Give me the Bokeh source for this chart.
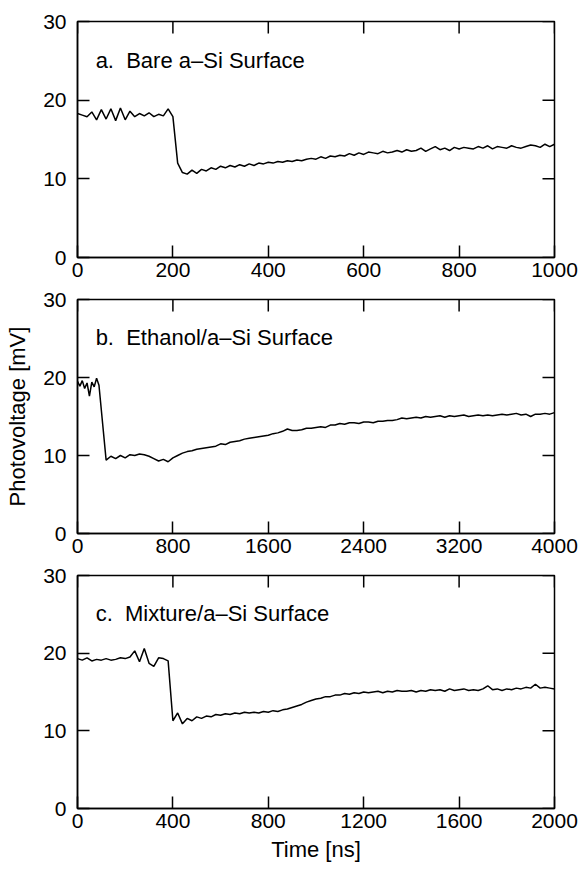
from math import pi
from bokeh.plotting import figure
from bokeh.models import Range1d, LinearAxis, FixedTicker, Label
from bokeh.layouts import column
from bokeh.embed import file_html
from bokeh.resources import INLINE

# ---------------- data ----------------
t_a = [0, 10, 20, 30, 40, 50, 60, 70, 80, 90, 100, 110, 120, 130, 140, 150, 160, 170, 180, 190,
       200, 210, 220, 230, 240, 250, 260, 270, 280, 290, 300, 310, 320, 330, 340, 350, 360, 370, 380, 390,
       400, 410, 420, 430, 440, 450, 460, 470, 480, 490, 500, 510, 520, 530, 540, 550, 560, 570, 580, 590,
       600, 610, 620, 630, 640, 650, 660, 670, 680, 690, 700, 710, 720, 730, 740, 750, 760, 770, 780, 790,
       800, 810, 820, 830, 840, 850, 860, 870, 880, 890, 900, 910, 920, 930, 940, 950, 960, 970, 980, 990, 1000]
v_a = [18.3, 18.1, 17.9, 18.5, 17.5, 18.8, 17.6, 18.9, 17.4, 19.0, 17.5, 18.6, 17.9, 18.3, 18.0, 18.4, 17.9, 18.2, 18.0, 18.9,
       17.9, 12.0, 10.8, 10.6, 11.1, 10.7, 11.2, 11.0, 11.4, 11.2, 11.6, 11.4, 11.7, 11.5, 11.8, 11.6, 11.9, 11.7, 12.0, 11.9,
       12.1, 12.0, 12.2, 12.1, 12.3, 12.2, 12.4, 12.3, 12.5, 12.6, 12.5, 12.8, 12.6, 12.9, 12.8, 13.0, 12.9, 13.2, 13.0, 13.3,
       13.1, 13.4, 13.3, 13.2, 13.5, 13.3, 13.4, 13.6, 13.4, 13.7, 13.5, 13.6, 13.9, 13.5, 13.8, 14.1, 13.7, 13.9, 13.6, 14.0,
       13.8, 14.0, 13.9, 13.8, 14.1, 13.9, 14.2, 13.8, 14.1, 14.0, 13.9, 14.2, 14.0, 13.9, 14.1, 14.3, 14.2, 14.0, 14.4, 14.1, 14.4]

t_b = [0, 20, 40, 60, 80, 100, 120, 140, 160, 180, 240, 280, 320, 360, 400, 440, 480, 520, 560, 600,
       640, 680, 720, 760, 800, 840, 880, 920, 960, 1000, 1040, 1080, 1120, 1160, 1200, 1240, 1280, 1320, 1360, 1400,
       1440, 1480, 1520, 1560, 1600, 1640, 1680, 1720, 1760, 1800, 1840, 1880, 1920, 1960, 2000, 2040, 2080, 2120, 2160, 2200,
       2240, 2280, 2320, 2360, 2400, 2440, 2480, 2520, 2560, 2600, 2640, 2680, 2720, 2760, 2800, 2840, 2880, 2920, 2960, 3000,
       3040, 3080, 3120, 3160, 3200, 3240, 3280, 3320, 3360, 3400, 3440, 3480, 3520, 3560, 3600, 3640, 3680, 3720, 3760, 3800,
       3840, 3880, 3920, 3960, 4000]
v_b = [19.5, 18.9, 19.6, 18.6, 19.3, 17.6, 19.4, 18.8, 19.9, 19.0, 9.4, 9.9, 9.6, 10.0, 9.7, 10.1, 10.0, 10.2, 10.1, 9.9,
       9.6, 9.3, 9.5, 9.2, 9.7, 10.0, 10.3, 10.5, 10.6, 10.8, 10.9, 11.0, 11.1, 11.2, 11.5, 11.4, 11.7, 11.8, 11.9, 12.1,
       12.2, 12.3, 12.4, 12.5, 12.6, 12.8, 12.9, 13.1, 13.4, 13.2, 13.2, 13.3, 13.5, 13.5, 13.6, 13.7, 13.6, 13.9, 13.9, 14.1,
       14.0, 14.2, 14.2, 14.1, 14.3, 14.3, 14.2, 14.4, 14.4, 14.5, 14.5, 14.6, 14.8, 14.7, 14.8, 14.9, 14.8, 15.0, 14.9, 15.0,
       15.1, 14.9, 15.1, 15.0, 15.1, 15.2, 15.0, 15.1, 15.2, 15.1, 15.2, 15.1, 15.2, 15.3, 15.2, 15.3, 15.4, 15.2, 15.3, 15.0,
       15.3, 15.3, 15.4, 15.3, 15.5]

t_c = [0, 20, 40, 60, 80, 100, 120, 140, 160, 180, 200, 220, 240, 260, 280, 300, 320, 340, 360, 380,
       400, 420, 440, 460, 480, 500, 520, 540, 560, 580, 600, 620, 640, 660, 680, 700, 720, 740, 760, 780,
       800, 820, 840, 860, 880, 900, 920, 940, 960, 980, 1000, 1020, 1040, 1060, 1080, 1100, 1120, 1140, 1160, 1180,
       1200, 1220, 1240, 1260, 1280, 1300, 1320, 1340, 1360, 1380, 1400, 1420, 1440, 1460, 1480, 1500, 1520, 1540, 1560, 1580,
       1600, 1620, 1640, 1660, 1680, 1700, 1720, 1740, 1760, 1780, 1800, 1820, 1840, 1860, 1880, 1900, 1920, 1940, 1960, 1980, 2000]
v_c = [19.3, 19.1, 19.4, 19.0, 19.2, 19.1, 19.3, 19.1, 19.2, 19.4, 19.3, 19.5, 20.3, 18.9, 20.6, 18.7, 18.3, 19.4, 19.3, 19.0,
       11.3, 12.3, 10.9, 11.6, 11.3, 11.8, 11.6, 11.9, 11.8, 12.1, 12.0, 12.2, 12.1, 12.3, 12.2, 12.4, 12.3, 12.4, 12.3, 12.5,
       12.4, 12.6, 12.5, 12.7, 12.8, 13.0, 13.2, 13.4, 13.7, 13.9, 14.1, 14.2, 14.4, 14.4, 14.6, 14.6, 14.8, 14.7, 14.9, 14.8,
       15.0, 14.9, 15.0, 15.1, 14.9, 15.1, 15.0, 15.2, 15.1, 15.1, 15.2, 15.0, 15.2, 15.1, 15.3, 15.2, 15.3, 15.1, 15.4, 15.2,
       15.3, 15.4, 15.2, 15.3, 15.2, 15.4, 15.8, 15.3, 15.4, 15.2, 15.4, 15.3, 15.5, 15.4, 15.6, 15.5, 16.0, 15.5, 15.6, 15.5, 15.4]

x_ticks_a = [0, 200, 400, 600, 800, 1000]
x_ticks_b = [0, 800, 1600, 2400, 3200, 4000]
x_ticks_c = [0, 400, 800, 1200, 1600, 2000]
y_ticks = [0, 10, 20, 30]

title_a = "a.\u00a0 Bare a–Si Surface"
title_b = "b.\u00a0 Ethanol/a–Si Surface"
title_c = "c.\u00a0 Mixture/a–Si Surface"
y_label = "Photovoltage [mV]"
x_label = "Time [ns]"

FONT = "Liberation Sans"
Y_MAX = 30


def style_axis(ax):
    ax.major_tick_in = 12
    ax.major_tick_out = 0
    ax.minor_tick_in = 0
    ax.minor_tick_out = 0
    ax.major_tick_line_width = 1.5
    ax.major_tick_line_color = "black"
    ax.axis_line_width = 1.5
    ax.axis_line_color = "black"
    ax.major_label_text_font = FONT
    ax.major_label_text_color = "black"
    ax.major_label_text_font_size = "21px"
    ax.axis_label_text_font = FONT
    ax.axis_label_text_color = "black"
    ax.axis_label_text_font_size = "22px"
    ax.axis_label_text_font_style = "normal"


def panel(t, v, xmax, xticks, title, height, top, bottom, xlabel=None, ylabel=None):
    p = figure(width=580, height=height, output_backend="svg", toolbar_location=None,
               x_range=Range1d(0, xmax), y_range=Range1d(0, Y_MAX),
               x_axis_type=None, y_axis_type=None,
               min_border_left=77, min_border_right=26,
               min_border_top=top, min_border_bottom=bottom)
    p.outline_line_color = "black"
    p.outline_line_width = 1.5
    p.background_fill_color = "white"
    p.border_fill_color = "white"

    xb = LinearAxis(ticker=FixedTicker(ticks=xticks))
    style_axis(xb)
    xb.major_label_standoff = 5
    if xlabel:
        xb.axis_label = xlabel
        xb.axis_label_standoff = 6
    p.add_layout(xb, "below")

    yl = LinearAxis(ticker=FixedTicker(ticks=y_ticks))
    style_axis(yl)
    yl.major_label_standoff = 11
    if ylabel:
        yl.axis_label = ylabel
        yl.axis_label_standoff = 10
    p.add_layout(yl, "left")

    # inward ticks on the top and right frame edges (clipped to the frame)
    p.scatter(xticks, [Y_MAX] * len(xticks), marker="dash", angle=pi / 2, size=24,
              line_color="black", line_width=1.5)
    p.scatter([xmax] * len(y_ticks), y_ticks, marker="dash", size=24,
              line_color="black", line_width=1.5)

    p.line(t, v, line_color="black", line_width=1.5)

    p.add_layout(Label(x=0.038 * xmax, y=25.1, text=title, text_font=FONT,
                       text_font_size="22px", text_color="black",
                       text_baseline="alphabetic", text_align="left"))
    p.xgrid.visible = False
    p.ygrid.visible = False
    return p


pa = panel(t_a, v_a, 1000, x_ticks_a, title_a, 286, 21, 29)
pb = panel(t_b, v_b, 4000, x_ticks_b, title_b, 276, 13, 29, ylabel=y_label)
pc = panel(t_c, v_c, 2000, x_ticks_c, title_c, 308, 13, 62, xlabel=x_label)

layout = column(pa, pb, pc, spacing=0)
open("out.html", "w").write(file_html(layout, INLINE))
